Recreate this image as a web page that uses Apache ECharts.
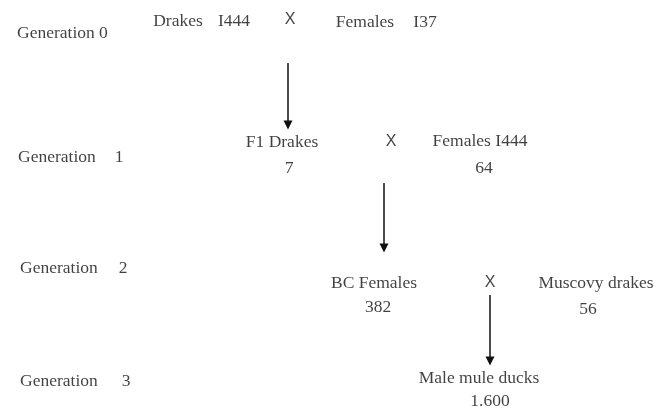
<!DOCTYPE html>
<html>
<head>
<meta charset="utf-8">
<script src="https://cdn.jsdelivr.net/npm/echarts@6/dist/echarts.min.js"></script>
<style>
  html, body { margin: 0; padding: 0; background: #fff; }
  #main { width: 667px; height: 408px; }
</style>
</head>
<body>
<div id="main"></div>
<script>
  // generation labels (left column) and their numbers
  var genText = ['Generation 0', 'Generation', 'Generation', 'Generation']
  var genX = [17, 18, 20, 20]
  var genY = [33, 157, 268, 381]
  var genNum = ['1', '2', '3']
  var genNumX = [119, 123, 126]
  var genNumY = [157, 268, 381]

  // cross members and their counts
  var nodeText = ['Drakes', 'I444', 'Females', 'I37', 'F1 Drakes', '7', 'Females I444', '64',
    'BC Females', '382', 'Muscovy drakes', '56', 'Male mule ducks', '1.600']
  var nodeX = [178, 234, 365, 425, 282, 289, 480, 484, 374, 378, 596, 588, 479, 490]
  var nodeY = [21, 21, 22, 22, 142, 168, 141, 168, 283, 307, 283, 309, 378, 401]

  // "X" marks
  var crossX = [290, 391, 490]
  var crossY = [20, 142, 283]

  // arrows: x, y start, y end
  var arrowX = [288, 384, 490]
  var arrowFrom = [63, 183, 295]
  var arrowTo = [125, 248, 361]

  var serif = '"Liberation Serif", "Times New Roman", serif'

  var chart = echarts.init(document.getElementById('main'))

  var genData = genText.map(function (t, i) {
    return {name: t, value: [genX[i], genY[i]]}
  })
  var numData = genNum.map(function (t, i) {
    return {name: t, value: [genNumX[i], genNumY[i]]}
  })
  var nodeData = nodeText.map(function (t, i) {
    return {name: t, value: [nodeX[i], nodeY[i]]}
  })
  var crossData = crossX.map(function (x, i) {
    return {name: 'X', value: [x, crossY[i]]}
  })
  var arrowData = arrowX.map(function (x, i) {
    return {coords: [[x, arrowFrom[i]], [x, arrowTo[i]]]}
  })

  var textLabel = function (align, font, size) {
    return {
      show: true, position: 'inside', align: align,
      formatter: '{b}', color: '#111', fontFamily: font, fontSize: size
    }
  }

  chart.setOption({
    animation: false,
    grid: {left: 0, right: 0, top: 0, bottom: 0},
    xAxis: {type: 'value', min: 0, max: 667, show: false},
    yAxis: {type: 'value', min: 0, max: 408, inverse: true, show: false},
    series: [{
      type: 'scatter',
      symbolSize: 0,
      data: genData,
      label: textLabel('left', serif, 17.5)
    }, {
      type: 'scatter',
      symbolSize: 0,
      data: numData,
      label: textLabel('center', serif, 17.5)
    }, {
      type: 'scatter',
      symbolSize: 0,
      data: nodeData,
      label: textLabel('center', serif, 17.5)
    }, {
      type: 'scatter',
      symbolSize: 0,
      data: crossData,
      label: textLabel('center', '"Liberation Sans", Arial, sans-serif', 16)
    }, {
      type: 'lines',
      coordinateSystem: 'cartesian2d',
      symbol: ['none', 'triangle'],
      symbolSize: [7, 9],
      lineStyle: {color: '#111', width: 1.5, opacity: 1},
      data: arrowData
    }]
  })
</script>
</body>
</html>
